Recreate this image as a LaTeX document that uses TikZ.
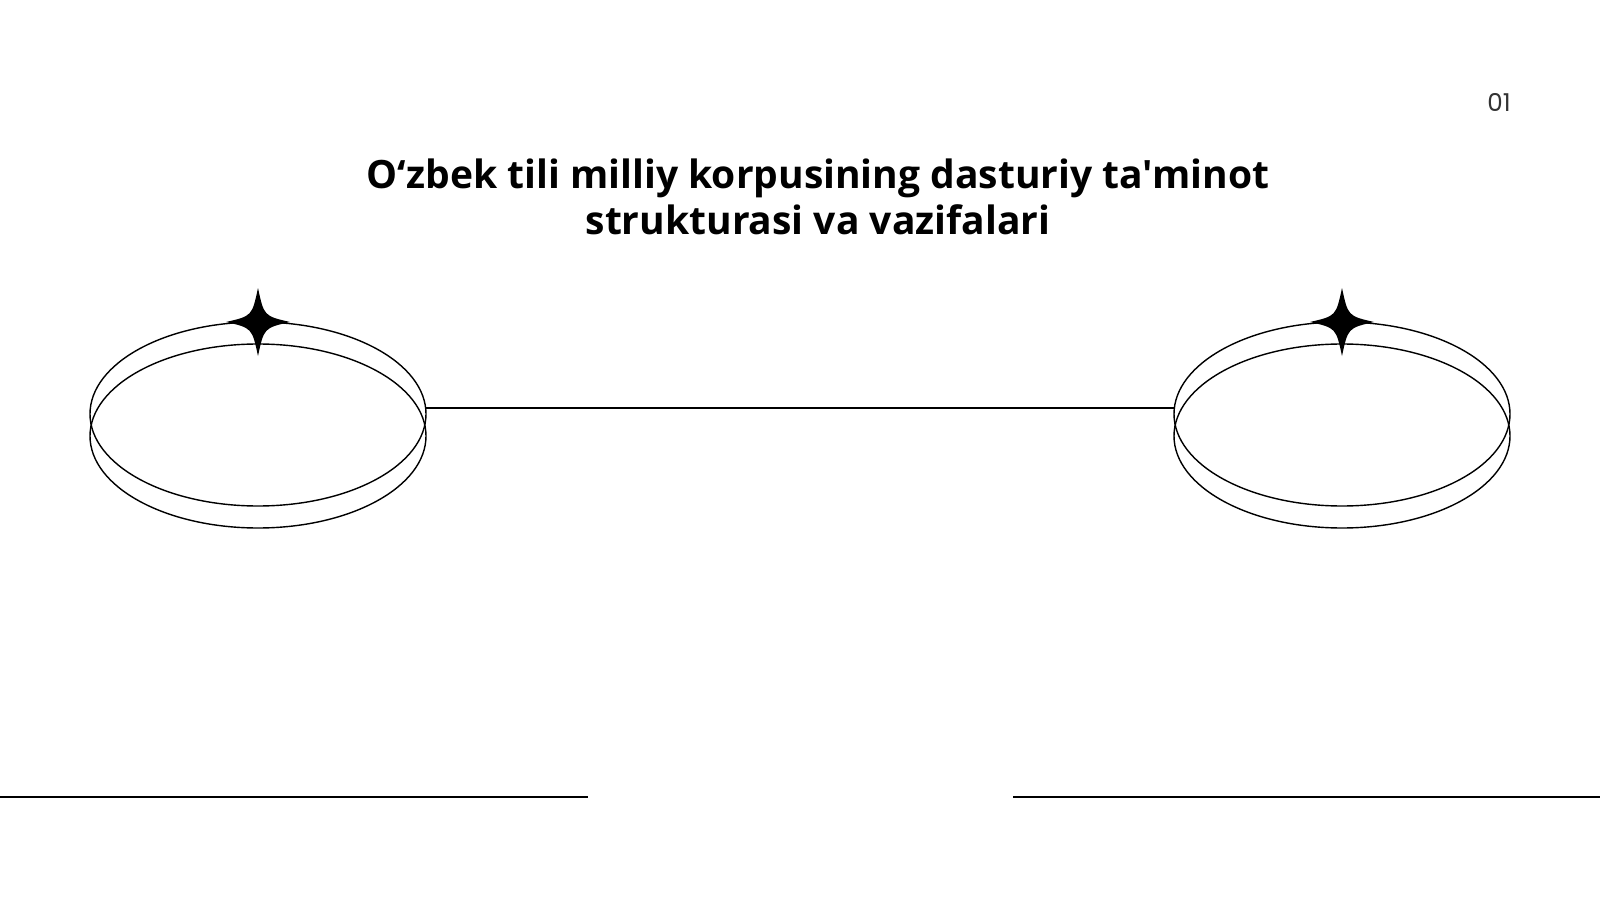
\documentclass[tikz,border=0pt]{standalone}
\usepackage{fontspec}
\setmainfont{Open Sans}[Ligatures=TeXOff]
\newfontfamily\pagefont{Poppins}
\usetikzlibrary{positioning, shapes.geometric}

\tikzset{
  ring/.style={draw, ellipse, thin, inner sep=0pt, outer sep=0pt, minimum width=33.6mm, minimum height=18.4mm},
  rule/.style={line width=0.6pt},
  pics/sparkle/.style={code={
    \fill (0,-34) .. controls (6,-6) .. (32,0) .. controls (6,6) .. (0,34)
      .. controls (-6,6) .. (-32,0) .. controls (-6,-6) .. cycle;
  }}
}

\begin{document}
\begin{tikzpicture}[x=0.1mm, y=-0.1mm]
    \useasboundingbox (0,0) rectangle (1600,900);
    % title and page number
    \node[font=\bfseries\fontsize{11.1}{13}\selectfont, align=center] (title) at (818,197) {O‘zbek tili milliy korpusining dasturiy ta'minot\\strukturasi va vazifalari};
    \node[font=\pagefont\fontsize{7}{8}\selectfont, text=black!80] (page) at (1499,102) {01};
    % left ring
    \node[ring] (ringLa) at (258,414) {};
    \node[ring, below=-16.2mm of ringLa] (ringLb) {};
    \pic at (ringLa.north) {sparkle};
    % right ring
    \node[ring] (ringRa) at (1342,414) {};
    \node[ring, below=-16.2mm of ringRa] (ringRb) {};
    \pic at (ringRa.north) {sparkle};
    \draw[rule] (ringLa.2) -- (ringRa.178);
    % bottom rules
    \coordinate (baseL) at (0,797);
    \coordinate (baseR) at (1600,797);
    \draw[rule] (baseL) -- ++(588,0);
    \draw[rule] (baseR) -- ++(-587,0);
  \end{tikzpicture}
\end{document}
